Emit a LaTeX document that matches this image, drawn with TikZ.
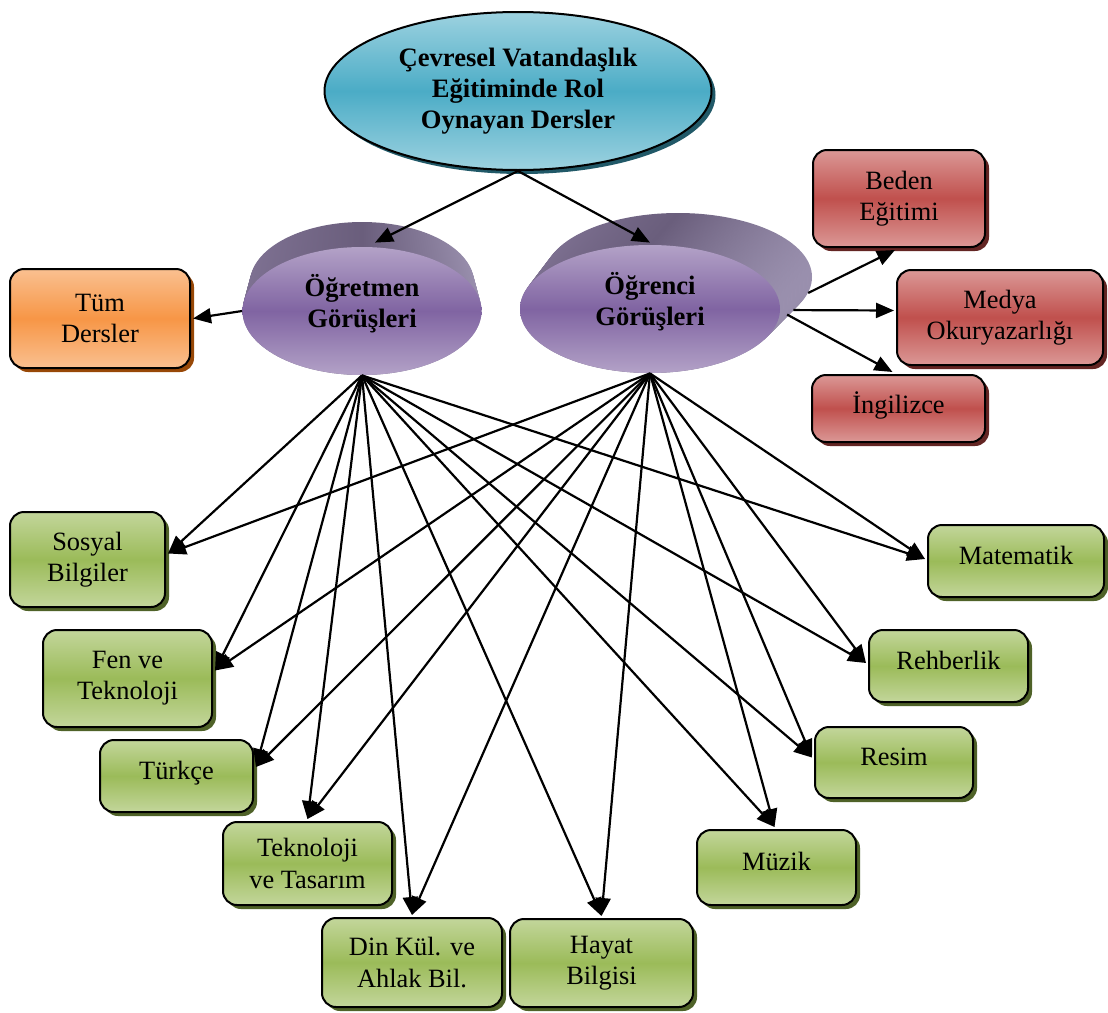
\documentclass[tikz,border=0pt]{standalone}
\usepackage{fontspec}
\setmainfont{Liberation Serif}
\usetikzlibrary{shapes.geometric,shadows,arrows.meta,calc}
\definecolor{tealL}{HTML}{9DD2E0}
\definecolor{tealD}{HTML}{4BACC6}
\definecolor{tealS}{HTML}{215968}
\definecolor{purL}{HTML}{B3A2C7}
\definecolor{purD}{HTML}{8064A2}
\definecolor{pbL}{HTML}{7E7192}
\definecolor{pbM}{HTML}{6A5E7C}
\definecolor{pbR}{HTML}{9A90AE}
\definecolor{orL}{HTML}{FAC090}
\definecolor{orD}{HTML}{F79646}
\definecolor{orS}{HTML}{984807}
\definecolor{redL}{HTML}{DB9896}
\definecolor{redD}{HTML}{C0504D}
\definecolor{redS}{HTML}{632523}
\definecolor{grL}{HTML}{C3D69B}
\definecolor{grD}{HTML}{9BBB59}
\definecolor{grS}{HTML}{4F6228}
\newcommand{\twolines}[2]{\raisebox{2.5pt}[\height][\depth]{\begin{tabular}{@{}c@{}}#1\\#2\end{tabular}}}
\tikzset{
  boxbase/.style={draw=black, line width=1pt, rounded corners=7pt, align=center,
    inner sep=0pt, outer sep=1.5pt, font=\fontsize{13.2}{15.6}\selectfont},
  greenbox/.style={boxbase, top color=grL, bottom color=grL, middle color=grD,
    drop shadow={shadow xshift=2pt, shadow yshift=-2pt, fill=grS, opacity=1}},
  redbox/.style={boxbase, top color=redL, bottom color=redL, middle color=redD,
    drop shadow={shadow xshift=2pt, shadow yshift=-2pt, fill=redS, opacity=1}},
  orangebox/.style={boxbase, top color=orL, bottom color=orL, middle color=orD,
    drop shadow={shadow xshift=2pt, shadow yshift=-2pt, fill=orS, opacity=1}},
  oneline/.style={text depth=6pt},
  purfront/.style={ellipse, inner sep=0pt, align=center, top color=purL, bottom color=purL,
    middle color=purD, font=\bfseries\fontsize{13.3}{15.6}\selectfont},
  purback/.style={ellipse, inner sep=0pt, left color=pbL, right color=pbR, middle color=pbM},
  arr/.style={line width=1.1pt, -{Triangle[length=9pt,width=7.5pt]}},
}
\begin{document}
\begin{tikzpicture}[x=0.5pt, y=-0.5pt]
\useasboundingbox (0,0) rectangle (1108,1012);
\fill[white] (0,0) rectangle (1108,1012);

% top ellipse
\node[ellipse, draw=black, line width=1pt, top color=tealL, bottom color=tealL, middle color=tealD,
  drop shadow={shadow xshift=2pt, shadow yshift=-2pt, fill=tealS, opacity=1},
  minimum width=193.5pt, minimum height=79pt, inner sep=0pt, align=center,
  font=\bfseries\fontsize{13.3}{15.6}\selectfont] (top) at (518,91)
  {Çevresel Vatandaşlık\\Eğitiminde Rol\\Oynayan Dersler};

% Ogretmen 3D body
\node[purback, minimum width=112pt, minimum height=61pt] (ogrb) at (362,283) {};
\foreach \i in {1,...,24}{
  \pgfmathsetmacro\myt{\i/24}
  \pgfmathsetmacro\cy{283+28*\myt}
  \pgfmathsetmacro\rx{112+7.5*\myt}
  \pgfmathsetmacro\ry{61+3*\myt}
  \shade[left color=pbL, right color=pbR, middle color=pbM] (362,\cy) ellipse ({\rx} and {\ry});
}
\node[purfront, minimum width=119.5pt, minimum height=64pt] (ogr) at (362,311) {\twolines{Öğretmen}{Görüşleri}};

% Ogrenci 3D body
\node[purback, minimum width=134pt, minimum height=64pt] (ogcb) at (678,277) {};
\foreach \i in {1,...,24}{
  \pgfmathsetmacro\myt{\i/24}
  \pgfmathsetmacro\cx{678-28*\myt}
  \pgfmathsetmacro\cy{277+32*\myt}
  \pgfmathsetmacro\rx{134-4*\myt}
  \shade[left color=pbL, right color=pbR, middle color=pbM] (\cx,\cy) ellipse ({\rx} and 64);
}
\node[purfront, minimum width=130pt, minimum height=64pt] (ogc) at (650,309) {\twolines{Öğrenci}{Görüşleri}};

% boxes
\node[orangebox, minimum width=90pt, minimum height=49.5pt] (tum) at (100,318.5) {Tüm\\Dersler};
\node[redbox, minimum width=86pt, minimum height=48.5pt] (beden) at (899,198.5) {Beden\\Eğitimi};
\node[redbox, minimum width=103pt, minimum height=47.5pt] (medya) at (1000,317.5) {Medya\\Okuryazarlığı};
\node[redbox, oneline, minimum width=86.5pt, minimum height=33.5pt] (ing) at (898.5,408.5) {İngilizce};

\node[greenbox, minimum width=77.5pt, minimum height=47.5pt] (sos) at (87.5,559.5) {Sosyal\\Bilgiler};
\node[greenbox, minimum width=84.5pt, minimum height=48.5pt] (fen) at (127.5,678.5) {Fen ve\\Teknoloji};
\node[greenbox, oneline, minimum width=76.5pt, minimum height=36pt] (turk) at (176.5,776) {Türkçe};
\node[greenbox, minimum width=84.5pt, minimum height=41.5pt] (tek) at (307.5,863.5) {Teknoloji\\ve Tasarım};
\node[greenbox, minimum width=90pt, minimum height=44.5pt] (din) at (412,962.5) {Din Kül. ve\\Ahlak Bil.};
\node[greenbox, minimum width=91.5pt, minimum height=44pt] (hay) at (601.5,963) {Hayat\\Bilgisi};
\node[greenbox, oneline, minimum width=88pt, minimum height=36pt] (mat) at (1016,561) {Matematik};
\node[greenbox, oneline, minimum width=79.5pt, minimum height=36pt] (reh) at (948.5,666) {Rehberlik};
\node[greenbox, oneline, minimum width=79pt, minimum height=35.5pt] (res) at (894,762.5) {Resim};
\node[greenbox, oneline, minimum width=79.5pt, minimum height=37.5pt] (muz) at (776.5,867.5) {Müzik};

% connectors
\draw[arr] (top.south) -- ([xshift=6.5pt,yshift=2pt]ogr.north);
\draw[arr] (top.south) -- ([yshift=1pt]ogc.north);
\draw[arr] (ogr.west) -- (tum.east);
\draw[arr] (ogcb.-7.5) -- ([xshift=-2pt]beden.south);
\draw[arr] (ogcb.-16) -- ([yshift=3.5pt]medya.west);
\draw[arr] (ogcb.-19.4) -- ([xshift=-3pt]ing.north);

\foreach \src in {ogr,ogc}{
  \draw[arr] (\src.south) -- ([yshift=3pt]sos.east);
  \draw[arr] (\src.south) -- ([yshift=4pt]fen.east);
  \draw[arr] (\src.south) -- ([yshift=4.5pt]turk.east);
  \draw[arr] (\src.south) -- (tek.north);
  \draw[arr] (\src.south) -- (din.north);
  \draw[arr] (\src.south) -- (hay.north);
  \draw[arr] (\src.south) -- ([xshift=-1pt]muz.north);
  \draw[arr] (\src.south) -- ([yshift=2.5pt]res.west);
  \draw[arr] (\src.south) -- ([yshift=1.5pt]reh.west);
  \draw[arr] (\src.south) -- ([yshift=1pt]mat.west);
}
\end{tikzpicture}
\end{document}
